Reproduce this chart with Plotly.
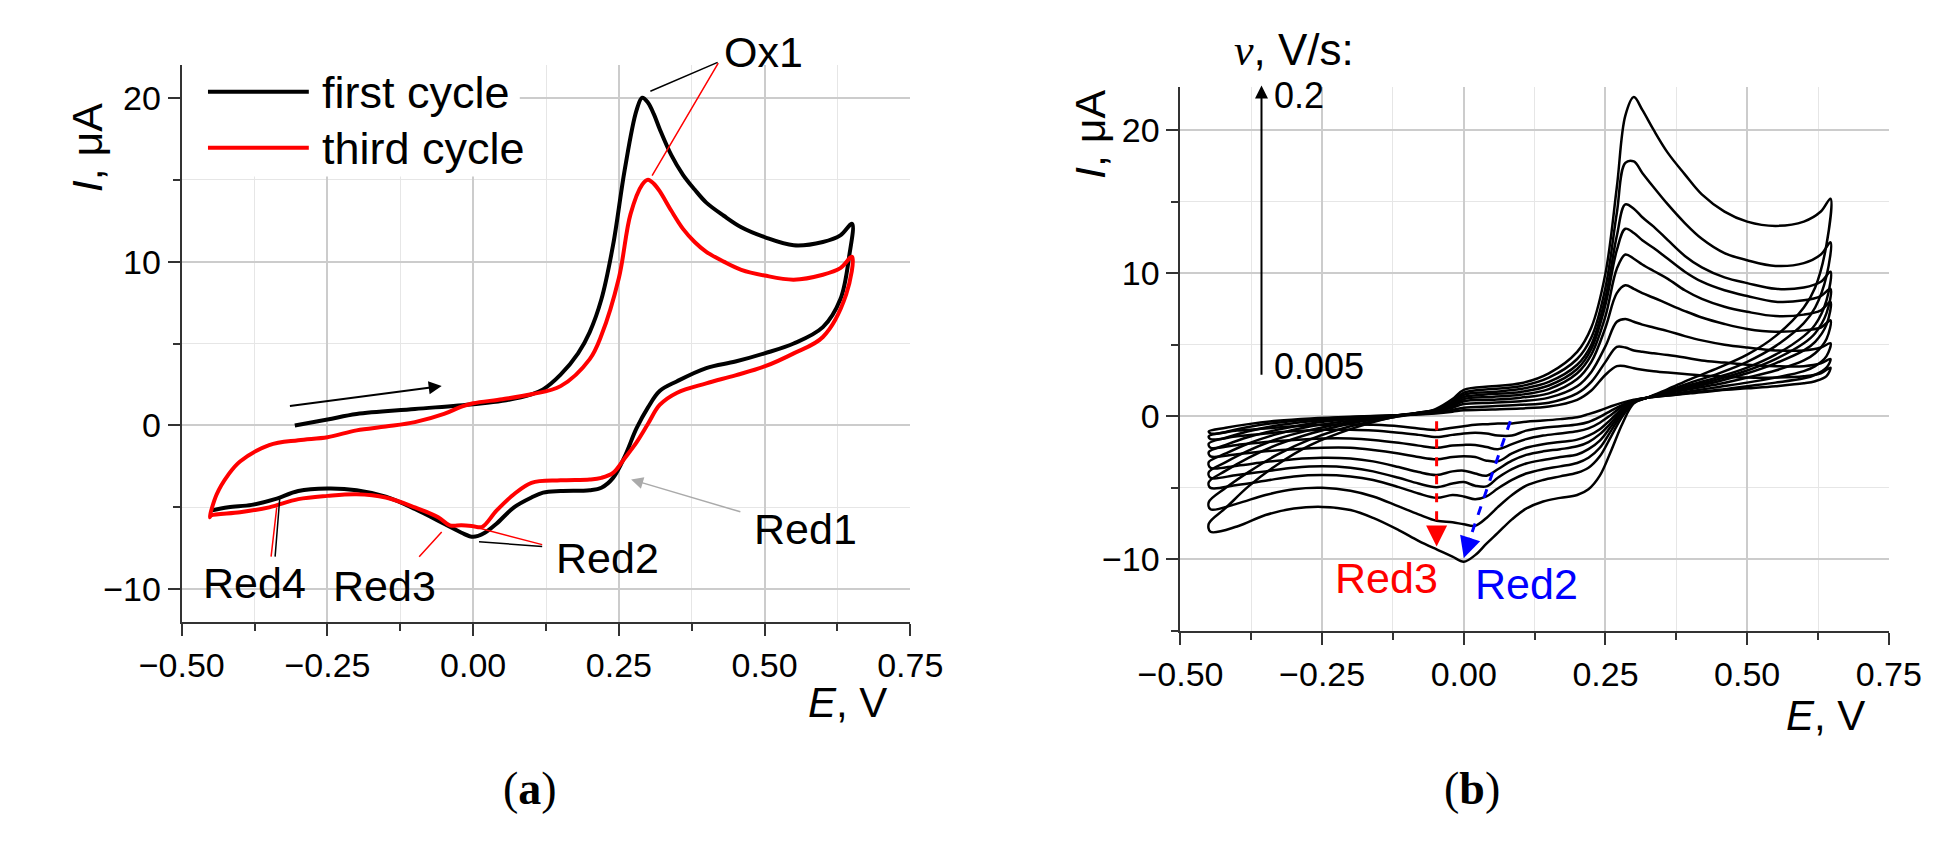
import plotly.graph_objects as go

# ---------------- (a) first vs third cycle ----------------
e_first_fwd = [-0.306, -0.25, -0.2, -0.1, 0.0, 0.05, 0.1, 0.12, 0.15, 0.18, 0.2, 0.22, 0.24,
               0.26, 0.28, 0.29, 0.30, 0.31, 0.32, 0.34, 0.36, 0.38, 0.4, 0.43, 0.46, 0.5,
               0.55, 0.6, 0.63, 0.65]
i_first_fwd = [0.0, 0.36, 0.7, 1.0, 1.3, 1.5, 1.9, 2.2, 3.1, 4.4, 5.7, 7.7, 11.0,
               15.6, 19.2, 20.0, 19.7, 19.0, 18.1, 16.5, 15.3, 14.4, 13.6, 12.8, 12.1, 11.5,
               11.0, 11.2, 11.6, 12.3]
e_first_rev = [0.645, 0.63, 0.6, 0.55, 0.5, 0.45, 0.4, 0.35, 0.32, 0.3, 0.28, 0.26, 0.24, 0.22,
               0.2, 0.15, 0.12, 0.1, 0.07, 0.04, 0.02, 0.0, -0.02, -0.05, -0.1, -0.15, -0.2,
               -0.25, -0.3, -0.34, -0.38, -0.42, -0.45]
i_first_rev = [10.3, 7.7, 6.0, 5.0, 4.4, 3.9, 3.5, 2.7, 2.1, 1.1, -0.2, -1.9, -3.2, -3.8,
               -3.95, -4.0, -4.1, -4.4, -5.0, -6.0, -6.55, -6.8, -6.55, -6.0, -5.1, -4.35, -3.95,
               -3.85, -4.0, -4.5, -4.85, -5.0, -5.2]

e_third_fwd = [-0.452, -0.44, -0.42, -0.4, -0.35, -0.3, -0.25, -0.2, -0.15, -0.1, -0.05, -0.02,
               0.0, 0.05, 0.1, 0.15, 0.2, 0.22, 0.25, 0.27, 0.29, 0.30, 0.31, 0.32, 0.34, 0.36,
               0.38, 0.4, 0.43, 0.46, 0.5, 0.55, 0.6, 0.63, 0.65]
i_third_fwd = [-5.6, -4.2, -3.0, -2.2, -1.2, -0.9, -0.72, -0.3, -0.07, 0.2, 0.7, 1.15,
               1.35, 1.6, 1.9, 2.4, 4.05, 5.5, 9.0, 12.9, 14.7, 15.0, 14.75, 14.3, 13.1, 12.0,
               11.2, 10.6, 10.0, 9.5, 9.15, 8.9, 9.2, 9.6, 10.3]
e_third_rev = [0.64, 0.6, 0.55, 0.5, 0.45, 0.4, 0.35, 0.32, 0.3, 0.28, 0.26, 0.24, 0.22, 0.2,
               0.15, 0.1, 0.07, 0.04, 0.015, 0.0, -0.02, -0.04, -0.06, -0.1, -0.15, -0.2, -0.25,
               -0.3, -0.35, -0.4, -0.45]
i_third_rev = [8.0, 5.4, 4.4, 3.6, 3.06, 2.57, 2.0, 1.25, 0.1, -1.05, -2.0, -2.9, -3.2, -3.3,
               -3.35, -3.5, -4.2, -5.2, -6.2, -6.15, -6.1, -6.1, -5.6, -5.0, -4.4, -4.2, -4.3,
               -4.5, -5.0, -5.3, -5.5]

# ---------------- (b) scan rate series, slowest (0.005 V/s) to fastest (0.2 V/s) ----------------
e_fwd = [-0.45, -0.42, -0.38, -0.33, -0.27, -0.2, -0.13, -0.08, -0.05, -0.02, 0.0, 0.05, 0.1,
         0.15, 0.2, 0.225, 0.25, 0.27, 0.285, 0.30, 0.315, 0.335, 0.36, 0.39, 0.42, 0.46, 0.5,
         0.55, 0.6, 0.63, 0.647]
e_rev = [0.64, 0.62, 0.6, 0.55, 0.5, 0.45, 0.4, 0.36, 0.324, 0.30, 0.28, 0.26, 0.24, 0.22,
         0.20, 0.17, 0.14, 0.11, 0.085, 0.06, 0.04, 0.02, 0.0, -0.02, -0.048, -0.08, -0.115,
         -0.16, -0.2, -0.25, -0.3, -0.35, -0.4, -0.447]

fwd_1 = [-1.05, -0.8, -0.55, -0.32, -0.15, -0.03, 0.05, 0.12, 0.2, 0.32, 0.42, 0.48, 0.55, 0.68,
         1.15, 1.8, 2.9, 3.5, 3.5, 3.35, 3.25, 3.15, 3.05, 2.95, 2.85, 2.78, 2.7, 2.7, 2.8, 3.0, 3.4]
rev_1 = [2.8, 2.45, 2.3, 2.1, 1.95, 1.8, 1.6, 1.45, 1.3, 1.15, 0.95, 0.7, 0.4, 0.15, -0.07, -0.2,
         -0.3, -0.38, -0.5, -0.5, -0.55, -0.6, -0.7, -0.8, -0.95, -0.85, -0.7, -0.6, -0.55, -0.6,
         -0.7, -0.85, -1.0, -1.2]
fwd_2 = [-1.4, -1.1, -0.75, -0.45, -0.22, -0.06, 0.05, 0.15, 0.25, 0.45, 0.6, 0.7, 0.8, 0.95,
         1.6, 2.4, 3.8, 4.85, 4.8, 4.6, 4.5, 4.4, 4.28, 4.1, 3.9, 3.75, 3.6, 3.5, 3.5, 3.7, 4.0]
rev_2 = [3.4, 2.9, 2.65, 2.35, 2.1, 1.85, 1.65, 1.45, 1.3, 1.1, 0.8, 0.4, -0.05, -0.4, -0.58,
         -0.7, -0.8, -1.0, -1.35, -1.35, -1.2, -1.15, -1.2, -1.3, -1.45, -1.3, -1.15, -1.0, -0.95,
         -0.95, -1.05, -1.2, -1.4, -1.6]
fwd_3 = [-1.9, -1.5, -1.05, -0.65, -0.35, -0.12, 0.03, 0.18, 0.3, 0.6, 0.85, 0.95, 1.05, 1.3,
         2.1, 3.1, 4.9, 6.6, 6.8, 6.6, 6.4, 6.2, 5.95, 5.6, 5.3, 5.0, 4.8, 4.6, 4.6, 4.8, 5.1]
rev_3 = [4.2, 3.5, 3.15, 2.7, 2.35, 2.05, 1.75, 1.5, 1.3, 1.1, 0.7, 0.1, -0.45, -0.85, -1.05,
         -1.2, -1.35, -1.6, -1.95, -2.3, -2.15, -2.0, -2.0, -2.05, -2.2, -2.05, -1.85, -1.65,
         -1.55, -1.55, -1.65, -1.8, -2.0, -2.2]
fwd_4 = [-2.5, -2.0, -1.45, -0.95, -0.5, -0.2, 0.02, 0.2, 0.35, 0.7, 1.05, 1.15, 1.3, 1.6,
         2.6, 3.8, 6.2, 8.6, 9.15, 8.9, 8.6, 8.28, 7.85, 7.35, 6.9, 6.45, 6.1, 5.9, 6.0, 6.2, 6.7]
rev_4 = [5.4, 4.4, 3.9, 3.2, 2.7, 2.25, 1.9, 1.6, 1.3, 1.05, 0.55, -0.2, -0.9, -1.35, -1.63,
         -1.8, -1.95, -2.2, -2.6, -3.15, -3.1, -2.85, -2.8, -2.85, -3.0, -2.85, -2.6, -2.35,
         -2.2, -2.2, -2.3, -2.45, -2.65, -2.8]
fwd_5 = [-3.2, -2.6, -1.9, -1.25, -0.7, -0.3, 0.0, 0.22, 0.38, 0.8, 1.2, 1.35, 1.5, 1.9,
         3.0, 4.3, 7.0, 10.3, 11.3, 11.0, 10.6, 10.15, 9.6, 8.8, 8.2, 7.65, 7.3, 7.0, 7.1, 7.4, 8.0]
rev_5 = [6.4, 5.2, 4.6, 3.7, 3.0, 2.45, 2.0, 1.65, 1.3, 1.05, 0.45, -0.45, -1.25, -1.8, -2.1,
         -2.3, -2.45, -2.7, -3.1, -3.7, -4.15, -4.0, -3.8, -3.85, -4.1, -3.9, -3.55, -3.15,
         -2.95, -2.9, -3.0, -3.2, -3.45, -3.6]
fwd_6 = [-3.9, -3.2, -2.4, -1.6, -0.95, -0.4, 0.0, 0.25, 0.4, 0.9, 1.35, 1.55, 1.7, 2.15,
         3.3, 4.7, 7.8, 11.6, 13.1, 12.8, 12.3, 11.75, 11.0, 10.1, 9.4, 8.8, 8.4, 8.0, 8.1, 8.4, 8.9]
rev_6 = [7.2, 5.8, 5.1, 4.0, 3.2, 2.6, 2.1, 1.7, 1.3, 1.0, 0.35, -0.7, -1.7, -2.3, -2.67,
         -2.85, -3.05, -3.3, -3.7, -4.3, -4.9, -4.85, -4.6, -4.7, -4.95, -4.7, -4.3, -3.85,
         -3.6, -3.5, -3.6, -3.85, -4.1, -4.3]
fwd_7 = [-4.6, -3.8, -2.9, -2.0, -1.2, -0.5, -0.05, 0.25, 0.42, 0.95, 1.5, 1.7, 1.9, 2.4,
         3.6, 5.0, 8.3, 12.6, 14.8, 14.5, 13.9, 13.25, 12.3, 11.2, 10.4, 9.7, 9.3, 8.9, 9.0, 9.4, 10.1]
rev_7 = [8.1, 6.4, 5.6, 4.3, 3.4, 2.75, 2.2, 1.75, 1.3, 1.0, 0.2, -1.0, -2.2, -2.9, -3.26,
         -3.5, -3.7, -4.0, -4.45, -5.05, -5.6, -5.8, -5.6, -5.5, -5.7, -5.4, -4.95, -4.45,
         -4.2, -4.1, -4.2, -4.5, -4.8, -5.0]
fwd_8 = [-6.0, -5.0, -3.9, -2.7, -1.6, -0.7, -0.1, 0.25, 0.45, 1.05, 1.65, 1.9, 2.1, 2.7,
         4.0, 5.5, 9.0, 14.2, 17.7, 17.8, 17.0, 16.0, 14.8, 13.5, 12.4, 11.4, 10.9, 10.5, 10.7,
         11.3, 12.15]
rev_8 = [9.8, 7.6, 6.5, 4.9, 3.8, 3.0, 2.35, 1.8, 1.3, 0.95, 0.0, -1.4, -2.8, -3.6, -3.95,
         -4.2, -4.45, -4.85, -5.5, -6.35, -7.1, -7.65, -7.55, -7.4, -7.3, -6.85, -6.3, -5.6,
         -5.2, -5.0, -5.1, -5.5, -6.1, -6.5]
fwd_9 = [-7.5, -6.4, -4.9, -3.4, -2.0, -0.9, -0.1, 0.2, 0.5, 1.2, 1.85, 2.1, 2.3, 3.0,
         4.5, 6.2, 10.0, 16.0, 21.0, 22.3, 21.4, 20.0, 18.4, 16.9, 15.5, 14.3, 13.6, 13.3, 13.6,
         14.3, 15.2]
rev_9 = [12.0, 9.0, 7.6, 5.6, 4.3, 3.4, 2.6, 1.9, 1.3, 0.9, -0.5, -2.4, -4.15, -5.1, -5.5,
         -5.7, -5.95, -6.45, -7.2, -8.15, -8.9, -9.7, -10.16, -9.8, -9.3, -8.7, -7.95, -7.1,
         -6.55, -6.33, -6.45, -6.9, -7.7, -8.07]

scan_fwd = [fwd_1, fwd_2, fwd_3, fwd_4, fwd_5, fwd_6, fwd_7, fwd_8, fwd_9]
scan_rev = [rev_1, rev_2, rev_3, rev_4, rev_5, rev_6, rev_7, rev_8, rev_9]

FONT = "Liberation Sans, Arial, sans-serif"
SERIF = "Liberation Serif, Times New Roman, serif"
RED = "#ff0000"
BLUE = "#0000ff"

X_RANGE = [-0.5, 0.75]
Y_RANGE_A = [-12, 22]
Y_RANGE_B = [-15, 23]
X_DOM_A = [0.0694, 0.4561]
Y_DOM_A = [0.2742, 0.9326]
X_DOM_B = [0.5995, 0.9755]
Y_DOM_B = [0.2636, 0.9066]

fig = go.Figure()

# (a) curves
fig.add_trace(go.Scatter(x=e_first_fwd + e_first_rev, y=i_first_fwd + i_first_rev,
                         mode="lines", line=dict(color="black", width=4, shape="spline", smoothing=1.0),
                         xaxis="x", yaxis="y", name="first cycle"))
fig.add_trace(go.Scatter(x=e_third_fwd + e_third_rev + e_third_fwd[:1],
                         y=i_third_fwd + i_third_rev + i_third_fwd[:1],
                         mode="lines", line=dict(color=RED, width=4, shape="spline", smoothing=1.0),
                         xaxis="x", yaxis="y", name="third cycle"))

# (b) curves
for fwd, rev in zip(scan_fwd, scan_rev):
    fig.add_trace(go.Scatter(x=e_fwd + e_rev + e_fwd[:1], y=fwd + rev + fwd[:1],
                             mode="lines", line=dict(color="black", width=2.5, shape="spline", smoothing=1.0),
                             xaxis="x2", yaxis="y2", showlegend=False))


def axis_style(rng, dtick, minor_dtick, domain, anchor, fmt=None):
    ax = dict(range=rng, domain=domain, anchor=anchor, dtick=dtick, tick0=0,
              showline=True, linecolor="#333", linewidth=2, mirror=False,
              ticks="outside", ticklen=12, tickwidth=2, tickcolor="#333",
              showgrid=True, gridcolor="#cccccc", gridwidth=1.5, zeroline=False,
              tickfont=dict(size=34, color="black", family=FONT),
              minor=dict(dtick=minor_dtick, ticks="outside", ticklen=7, tickwidth=1.5,
                         tickcolor="#333", showgrid=True, gridcolor="#e6e6e6", gridwidth=1))
    if fmt:
        ax["tickformat"] = fmt
    return ax


def to_paper(x, y, panel):
    # data position -> paper position, so text may sit outside the axis ranges
    if panel == "a":
        xd, yd, yr = X_DOM_A, Y_DOM_A, Y_RANGE_A
    else:
        xd, yd, yr = X_DOM_B, Y_DOM_B, Y_RANGE_B
    px = xd[0] + (x - X_RANGE[0]) / (X_RANGE[1] - X_RANGE[0]) * (xd[1] - xd[0])
    py = yd[0] + (y - yr[0]) / (yr[1] - yr[0]) * (yd[1] - yd[0])
    return px, py


def leader(x0, y0, x1, y1, color, xr, yr, head=0, width=1.5, size=1.0):
    return dict(x=x1, y=y1, ax=x0, ay=y0, xref=xr, yref=yr, axref=xr, ayref=yr,
                text="", showarrow=True, arrowhead=head, arrowwidth=width,
                arrowcolor=color, arrowsize=size, standoff=0, startstandoff=0)


def label(x, y, text, panel, size=43, color="black", xanchor="center", angle=0):
    px, py = to_paper(x, y, panel)
    return dict(x=px, y=py, xref="paper", yref="paper", text=text, showarrow=False,
                font=dict(size=size, color=color, family=FONT), xanchor=xanchor,
                yanchor="middle", textangle=angle)


annotations = [
    # panel (a)
    label(-0.662, 17.0, "<i>I</i>, μA", "a", size=43, angle=-90),
    label(0.643, -16.9, "<i>E</i>, V", "a", size=42),
    label(0.4975, 22.8, "Ox1", "a"),
    leader(0.422, 22.2, 0.304, 20.4, "black", "x", "y"),
    leader(0.422, 22.2, 0.307, 15.25, RED, "x", "y"),
    label(0.57, -6.3, "Red1", "a"),
    leader(0.461, -5.3, 0.271, -3.3, "#aaaaaa", "x", "y", head=2, width=1.5, size=1.6),
    label(0.23, -8.1, "Red2", "a"),
    leader(0.121, -7.4, 0.01, -7.1, "black", "x", "y"),
    leader(0.121, -7.3, 0.003, -6.2, RED, "x", "y"),
    label(-0.152, -9.8, "Red3", "a"),
    leader(-0.095, -8.1, -0.054, -6.5, RED, "x", "y"),
    label(-0.375, -9.6, "Red4", "a"),
    leader(-0.34, -8.1, -0.332, -4.5, "black", "x", "y"),
    leader(-0.347, -8.1, -0.337, -5.0, RED, "x", "y"),
    leader(-0.317, 1.18, -0.054, 2.4, "black", "x", "y", head=2, width=2, size=1.3),
    label(-0.263, 20.3, "first cycle", "a", size=45, xanchor="left"),
    label(-0.263, 16.9, "third cycle", "a", size=45, xanchor="left"),
    # panel (b)
    label(-0.66, 19.7, "<i>I</i>, μA", "b", size=43, angle=-90),
    label(0.638, -20.9, "<i>E</i>, V", "b", size=42),
    label(-0.30, 25.6, "<span style='font-family:Liberation Serif'><i>v</i></span>, V/s:",
          "b", size=44),
    leader(-0.357, 2.8, -0.357, 23.1, "black", "x2", "y2", head=2, width=2, size=1.3),
    label(-0.338, 22.4, "0.2", "b", size=36, xanchor="left"),
    label(-0.338, 3.5, "0.005", "b", size=36, xanchor="left"),
    leader(-0.048, -7.6, -0.048, -9.1, RED, "x2", "y2", head=2, width=3, size=1.4),
    leader(0.012, -8.4, 0.0, -9.9, BLUE, "x2", "y2", head=2, width=3, size=1.4),
    label(-0.136, -11.3, "Red3", "b", color=RED),
    label(0.11, -11.7, "Red2", "b", color=BLUE),
    # panel captions
    dict(x=0.239, y=0.045, xref="paper", yref="paper", text="(<b>a</b>)", showarrow=False,
         font=dict(size=46, color="black", family=SERIF)),
    dict(x=0.770, y=0.045, xref="paper", yref="paper", text="(<b>b</b>)", showarrow=False,
         font=dict(size=46, color="black", family=SERIF)),
]

shapes = [
    # legend box and samples in (a)
    dict(type="rect", xref="x", yref="y", x0=-0.5, x1=0.08, y0=15.2, y1=22,
         fillcolor="white", line=dict(width=0), layer="between"),
    dict(type="line", xref="x", yref="y", x0=-0.455, x1=-0.282, y0=20.37, y1=20.37,
         line=dict(color="black", width=4)),
    dict(type="line", xref="x", yref="y", x0=-0.455, x1=-0.282, y0=16.95, y1=16.95,
         line=dict(color=RED, width=4)),
    # dashed guides in (b)
    dict(type="line", xref="x2", yref="y2", x0=-0.048, x1=-0.048, y0=-0.35, y1=-7.8,
         line=dict(color=RED, width=3, dash="dash")),
    dict(type="line", xref="x2", yref="y2", x0=0.082, x1=0.012, y0=-0.35, y1=-8.4,
         line=dict(color=BLUE, width=3, dash="dash")),
]

fig.update_layout(
    width=1960, height=846,
    margin=dict(l=0, r=0, t=0, b=0),
    paper_bgcolor="white", plot_bgcolor="white",
    showlegend=False,
    font=dict(family=FONT, color="black"),
    xaxis=axis_style(X_RANGE, 0.25, 0.125, X_DOM_A, "y", ".2f"),
    yaxis=axis_style(Y_RANGE_A, 10, 5, Y_DOM_A, "x"),
    xaxis2=axis_style(X_RANGE, 0.25, 0.125, X_DOM_B, "y2", ".2f"),
    yaxis2=axis_style(Y_RANGE_B, 10, 5, Y_DOM_B, "x2"),
    annotations=annotations,
    shapes=shapes,
)

fig.write_html("out.html")
